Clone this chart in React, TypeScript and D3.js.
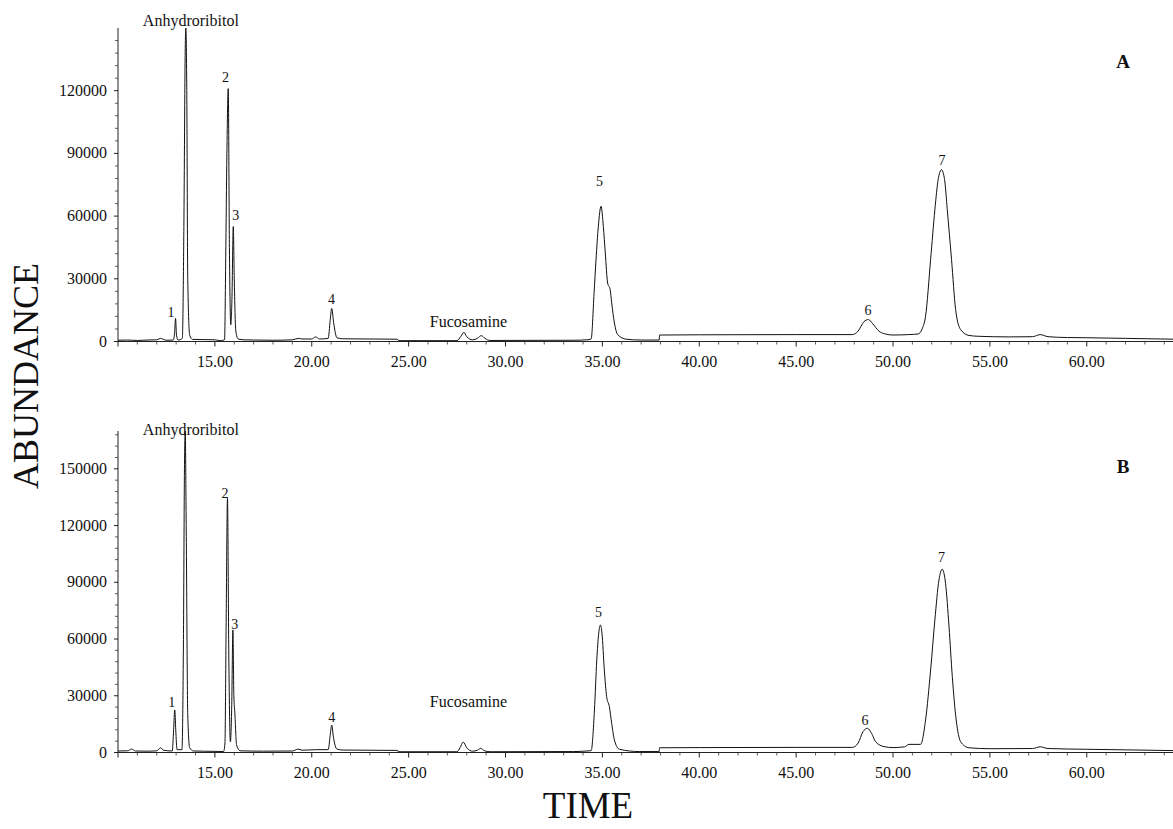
import React from "react";
import * as d3 from "d3";

// ---------- data ----------
const timeDomain: [number, number] = [10, 64.45];
const timeTickLabels = [15, 20, 25, 30, 35, 40, 45, 50, 55, 60];

const abundanceTicksA = [0, 30000, 60000, 90000, 120000];
const abundanceTicksB = [0, 30000, 60000, 90000, 120000, 150000];
const abundanceMaxA = 150000;
const abundanceMaxB = 170000;

// chromatogram A: [time (min), abundance]
const traceA: [number, number][] = [
  [10.0, 600], [10.5, 700], [11.0, 500], [11.5, 700], [12.0, 800], [12.2, 1500], [12.3, 1200],
  [12.5, 600], [12.85, 700], [12.92, 4000], [12.97, 11000], [13.02, 3000], [13.1, 700],
  [13.32, 1500], [13.4, 55000], [13.47, 140000], [13.5, 150000], [13.55, 120000], [13.6, 30000],
  [13.7, 3000], [13.85, 1000], [14.5, 900], [15.0, 800], [15.3, 400], [15.5, 900],
  [15.56, 40000], [15.62, 90000], [15.69, 121000], [15.75, 45000], [15.82, 8000], [15.88, 20000],
  [15.95, 55000], [16.0, 30000], [16.08, 5000], [16.2, 1200], [16.5, 800], [17.0, 700],
  [18.0, 600], [19.0, 800], [19.3, 1500], [19.5, 1200], [20.0, 1200], [20.2, 2200], [20.4, 1200],
  [20.85, 1500], [20.95, 10000], [21.03, 15800], [21.13, 9000], [21.3, 1800], [21.6, 1300],
  [24.4, 1100], [24.5, 400], [27.5, 400], [27.7, 2500], [27.85, 4400], [28.0, 2300], [28.3, 800],
  [28.55, 1500], [28.75, 2800], [28.95, 1400], [29.2, 500], [33.5, 600], [34.2, 800],
  [34.42, 1200], [34.57, 23000], [34.67, 39000], [34.79, 55000], [34.93, 64700], [35.05, 55000],
  [35.15, 42400], [35.27, 28000], [35.4, 24900], [35.48, 18500], [35.62, 8900], [35.79, 3300],
  [36.22, 1100], [37.0, 700], [37.93, 700], [37.95, 3100], [40.0, 3200], [45.0, 3300],
  [47.9, 3300], [48.2, 5000], [48.5, 9500], [48.73, 10500], [48.95, 8500], [49.28, 4900],
  [49.6, 3600], [50.0, 3100], [50.8, 3300], [51.3, 3600], [51.5, 6000], [51.68, 12100],
  [51.94, 39200], [52.16, 63100], [52.33, 77500], [52.5, 82200], [52.66, 77500], [52.8, 63100],
  [53.02, 39200], [53.23, 15300], [53.49, 5700], [53.92, 2900], [54.4, 2500], [56.0, 2200],
  [57.2, 2300], [57.6, 3300], [58.0, 2300], [59.0, 1900], [60.0, 1800], [62.0, 1500], [64.45, 1100],
];

// chromatogram B
const traceB: [number, number][] = [
  [10.0, 800], [10.5, 900], [10.7, 1800], [10.9, 800], [11.5, 700], [12.0, 900], [12.2, 2500],
  [12.35, 1200], [12.8, 800], [12.87, 12000], [12.93, 22500], [12.98, 12000], [13.05, 1500],
  [13.3, 1500], [13.38, 63000], [13.43, 150000], [13.47, 170000], [13.52, 120000], [13.6, 20000],
  [13.7, 2500], [13.9, 800], [15.0, 600], [15.45, 500], [15.52, 5000], [15.58, 66500],
  [15.65, 134400], [15.72, 50000], [15.8, 5700], [15.87, 25000], [15.93, 64800], [15.98, 30000],
  [16.03, 21000], [16.12, 4000], [16.3, 900], [17.5, 700], [19.0, 800], [19.3, 1800], [19.5, 1200],
  [20.2, 1500], [20.85, 1500], [20.95, 9000], [21.03, 14500], [21.12, 8000], [21.3, 1800],
  [21.6, 1300], [24.4, 1100], [24.5, 400], [27.5, 400], [27.65, 2500], [27.82, 5500], [28.0, 2500],
  [28.3, 700], [28.55, 1200], [28.72, 2200], [28.9, 1000], [29.2, 400], [33.5, 500], [34.2, 800],
  [34.42, 1000], [34.59, 22500], [34.71, 48900], [34.81, 63000], [34.9, 67400], [34.98, 63000],
  [35.1, 43600], [35.22, 29500], [35.36, 24200], [35.48, 15400], [35.62, 6600], [35.88, 1700],
  [36.9, 500], [37.93, 500], [37.95, 2500], [40.0, 2600], [45.0, 2700], [47.9, 2700], [48.2, 5000],
  [48.45, 11000], [48.68, 12800], [48.9, 10000], [49.1, 5700], [49.54, 3100], [50.0, 2600],
  [50.6, 3000], [50.82, 4300], [51.42, 4300], [51.68, 17200], [51.94, 43600], [52.16, 70100],
  [52.37, 91200], [52.54, 96900], [52.71, 89500], [52.89, 66500], [53.06, 40100], [53.26, 17200],
  [53.49, 5700], [53.92, 2500], [55.0, 2000], [57.2, 2100], [57.6, 3000], [58.0, 2100],
  [60.0, 1700], [62.0, 1400], [64.45, 1000],
];

// peak annotations: [text, time, abundance] (label anchor in data units)
const labelsA: [string, number, number][] = [
  ["Anhydroribitol", 13.76, 151000], ["1", 12.73, 11700], ["2", 15.55, 124200],
  ["3", 16.08, 58100], ["4", 21.02, 17900], ["Fucosamine", 28.09, 6900],
  ["5", 34.85, 74400], ["6", 48.71, 12700], ["7", 52.53, 84400],
];
const labelsB: [string, number, number][] = [
  ["Anhydroribitol", 13.76, 167900], ["1", 12.78, 24100], ["2", 15.52, 134600],
  ["3", 16.03, 65300], ["4", 21.03, 16100], ["Fucosamine", 28.09, 24100],
  ["5", 34.8, 71700], ["6", 48.56, 14500], ["7", 52.5, 100700],
];

const panelNames = ["A", "B"];
const xAxisTitle = "TIME";
const yAxisTitle = "ABUNDANCE";

// ---------- layout ----------
const W = 1173;
const H = 829;
const FONT = "'Liberation Serif', 'Times New Roman', serif";

const x = d3.scaleLinear().domain(timeDomain).range([118, 1173]);

const panels = [
  {
    name: panelNames[0], trace: traceA, labels: labelsA, ticks: abundanceTicksA,
    y: d3.scaleLinear().domain([0, abundanceMaxA]).range([341.5, 28]), max: abundanceMaxA,
  },
  {
    name: panelNames[1], trace: traceB, labels: labelsB, ticks: abundanceTicksB,
    y: d3.scaleLinear().domain([0, abundanceMaxB]).range([752.5, 431]), max: abundanceMaxB,
  },
];

const majorTimes = d3.range(10, 65, 5);
const minorTimes = d3.range(10, 65, 1).filter((t) => t % 5 !== 0);

export default function App() {
  return (
    <svg
      width={W}
      height={H}
      viewBox={`0 0 ${W} ${H}`}
      style={{ position: "absolute", left: 0, top: 0, background: "#fff" }}
      fontFamily={FONT}
    >
      <rect x={0} y={0} width={W} height={H} fill="#fff" />
      {panels.map((p, pi) => {
        const y = p.y;
        const y0 = y(0);
        const line = d3
          .line<[number, number]>()
          .x((d) => x(d[0]))
          .y((d) => y(d[1]))
          .curve(d3.curveMonotoneX);
        const minorY = d3.range(0, p.max + 1, 6000).filter((v) => v % 30000 !== 0);
        return (
          <g key={pi}>
            {/* y axis */}
            <line x1={118} x2={118} y1={y0} y2={y(p.max)} stroke="#222" strokeWidth={1} />
            {minorY.map((v) => (
              <line key={"my" + v} x1={115} x2={118} y1={y(v)} y2={y(v)} stroke="#333" strokeWidth={0.8} />
            ))}
            {p.ticks.map((v) => (
              <g key={"ty" + v}>
                <line x1={114} x2={118} y1={y(v)} y2={y(v)} stroke="#222" strokeWidth={1} />
                <text x={107} y={y(v) + 5} textAnchor="end" fontSize={16} fill="#111">
                  {v}
                </text>
              </g>
            ))}
            {/* x axis */}
            <line x1={118} x2={W} y1={y0} y2={y0} stroke="#222" strokeWidth={1} />
            {minorTimes.map((t) => (
              <line key={"mx" + t} x1={x(t)} x2={x(t)} y1={y0} y2={y0 + 3} stroke="#333" strokeWidth={0.8} />
            ))}
            {majorTimes.map((t) => (
              <line key={"Mx" + t} x1={x(t)} x2={x(t)} y1={y0} y2={y0 + 5} stroke="#222" strokeWidth={1} />
            ))}
            {timeTickLabels.map((t) => (
              <text key={"lx" + t} x={x(t)} y={y0 + 25} textAnchor="middle" fontSize={16} fill="#111">
                {t.toFixed(2)}
              </text>
            ))}
            {/* trace */}
            <path d={line(p.trace) || ""} fill="none" stroke="#111" strokeWidth={1} />
            {/* annotations */}
            {p.labels.map(([txt, t, v], i) => (
              <text
                key={"pl" + i}
                x={x(t)}
                y={y(v)}
                textAnchor="middle"
                fontSize={txt.length > 1 ? 16 : 14}
                fill="#111"
              >
                {txt}
              </text>
            ))}
            <text x={1123} y={y(p.max) + (pi === 0 ? 40 : 42)} textAnchor="middle" fontSize={19} fontWeight="bold" fill="#111">
              {p.name}
            </text>
          </g>
        );
      })}
      <text x={588} y={818} textAnchor="middle" fontSize={37} fill="#111">
        {xAxisTitle}
      </text>
      <text transform="translate(38,376) rotate(-90)" textAnchor="middle" fontSize={36} fill="#111">
        {yAxisTitle}
      </text>
    </svg>
  );
}
